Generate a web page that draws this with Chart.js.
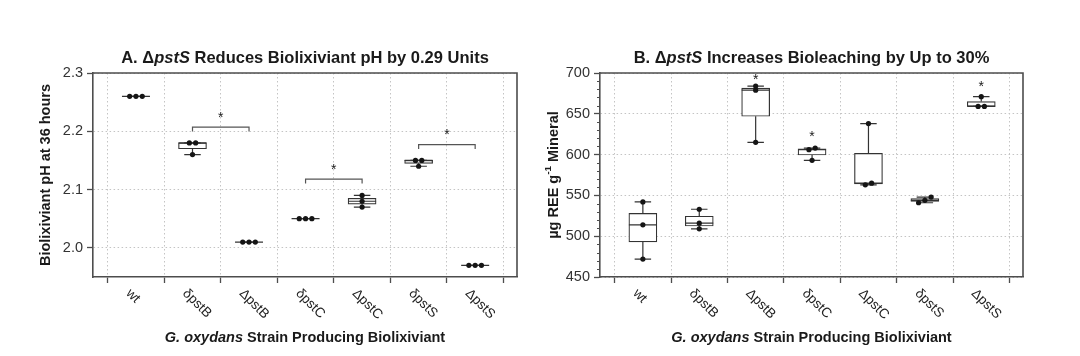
<!DOCTYPE html>
<html><head><meta charset="utf-8">
<script src="https://cdn.jsdelivr.net/npm/chart.js@4"></script>
<style>
html,body{margin:0;padding:0;background:#fff;}
#wrap{position:relative;width:1080px;height:356px;overflow:hidden;}
canvas{position:absolute;top:0;}
</style></head><body>
<div id="wrap">
<canvas id="cA" width="540" height="356" style="left:0;width:540px;height:356px"></canvas>
<canvas id="cB" width="540" height="356" style="left:540px;width:540px;height:356px"></canvas>
</div>
<script>
// ---------------- data ----------------
const strains = ['wt', 'δpstB', 'ΔpstB', 'δpstC', 'ΔpstC', 'δpstS', 'ΔpstS'];
const phValues = [
  [2.26, 2.26, 2.26],
  [2.16, 2.18, 2.18],
  [2.01, 2.01, 2.01],
  [2.05, 2.05, 2.05],
  [2.07, 2.08, 2.09],
  [2.14, 2.15, 2.15],
  [1.97, 1.97, 1.97]
];
const reeValues = [
  [472, 514, 542],
  [509, 516, 533],
  [615, 679, 684],
  [593, 606, 608],
  [563, 565, 638],
  [541, 544, 548],
  [659, 659, 671]
];
const phTicks = [2.0, 2.1, 2.2, 2.3];
const reeTicks = [450, 500, 550, 600, 650, 700];
const reeMinorStep = 10;
// significance brackets (category index from/to, bracket level) and asterisk levels
const phBrackets = [[1, 2, 2.207], [3, 4, 2.118], [5, 6, 2.177]];
const phStarLevels = [2.229, 2.140, 2.200];
const reeStarCats = [2, 3, 6];
const reeStarLevels = [696, 626, 688];

// ---------------- style / layout constants ----------------
const FAMILY = '"Liberation Sans", Arial, Helvetica, sans-serif';
Chart.defaults.font.family = FAMILY;
const PLOT_H = 204, PLOT_W = 424;
const X_MIN = -0.26, X_MAX = 7.24;
const X_UNIT_PX = PLOT_W / (X_MAX - X_MIN);
const BOX_PX = 28, CAP_PX = 16.5, SPREAD_PX = 6.3, SWARM_PX = 3.5;
const INK = '#333333', FRAME = '#4d4d4d';

function fnt(size, bold, italic) {
  return (italic ? 'italic ' : '') + (bold ? 'bold ' : '') + size + 'px ' + FAMILY;
}
function stats(v) {
  const s = [...v].sort((a, b) => a - b);
  const q = p => { const h = (s.length - 1) * p, lo = Math.floor(h), hi = Math.ceil(h); return s[lo] + (s[hi] - s[lo]) * (h - lo); };
  return { min: s[0], q1: q(0.25), med: q(0.5), q3: q(0.75), max: s[s.length - 1] };
}
function swarmOffsets(vals, thr, spread) {
  const idx = vals.map((v, i) => i).sort((a, b) => vals[a] - vals[b]);
  const offs = new Array(vals.length).fill(0);
  let cl = [idx[0]];
  const flush = () => { const n = cl.length; cl.forEach((k, j) => { offs[k] = (j - (n - 1) / 2) * spread; }); };
  for (let j = 1; j < idx.length; j++) {
    if (vals[idx[j]] - vals[idx[j - 1]] < thr) cl.push(idx[j]); else { flush(); cl = [idx[j]]; }
  }
  flush();
  return offs;
}
function segs(list) {
  const out = [];
  list.forEach(seg => { seg.forEach(p => out.push({ x: p[0], y: p[1] })); out.push({ x: seg[seg.length - 1][0], y: null }); });
  return out;
}
function drawRich(ctx, parts, x, y, size, align) {
  let w = 0;
  parts.forEach(p => { ctx.font = fnt(p.sup ? size * 0.68 : size, p.b !== false, p.i); p._w = ctx.measureText(p.t).width; w += p._w; });
  let cx = align === 'center' ? x - w / 2 : x;
  parts.forEach(p => {
    ctx.font = fnt(p.sup ? size * 0.68 : size, p.b !== false, p.i);
    ctx.textAlign = 'left';
    ctx.fillText(p.t, cx, p.sup ? y - size * 0.38 : y);
    cx += p._w;
  });
}

function makeChart(id, cfg) {
  const yRange = cfg.yMax - cfg.yMin;
  const yUnit = yRange / PLOT_H;
  const boxHalf = BOX_PX / 2 / X_UNIT_PX, capHalf = CAP_PX / 2 / X_UNIT_PX;
  const st = cfg.values.map(stats);
  const pts = [];
  cfg.values.forEach((vals, i) => {
    const offs = swarmOffsets(vals, SWARM_PX * yUnit, SPREAD_PX / X_UNIT_PX);
    vals.forEach((v, k) => pts.push({ x: i + 0.5 + offs[k], y: v }));
  });
  const whiskers = [], caps = [], medians = [];
  st.forEach((s, i) => {
    const c = i + 0.5;
    whiskers.push([[c, s.q3], [c, s.max]]);
    whiskers.push([[c, s.q1], [c, s.min]]);
    caps.push([[c - capHalf, s.max], [c + capHalf, s.max]]);
    caps.push([[c - capHalf, s.min], [c + capHalf, s.min]]);
    medians.push([[c - boxHalf, s.med], [c + boxHalf, s.med]]);
  });
  const drop = 4.4 * yUnit;
  const brackets = cfg.brackets.map(b => [[b[0] + 0.5, b[2] - drop], [b[0] + 0.5, b[2]], [b[1] + 0.5, b[2]], [b[1] + 0.5, b[2] - drop]]);
  const lineDs = (data, color, order) => ({ type: 'line', data: segs(data), borderColor: color, borderWidth: 1.2, pointRadius: 0, fill: false, tension: 0, spanGaps: false, order: order });

  const textPlugin = {
    id: 'texts' + id,
    afterDraw(chart) {
      const ctx = chart.ctx, a = chart.chartArea, xs = chart.scales.x, ys = chart.scales.y;
      ctx.save();
      // top + right frame
      ctx.strokeStyle = FRAME; ctx.lineWidth = 1.6;
      ctx.beginPath(); ctx.moveTo(a.left, a.top); ctx.lineTo(a.right, a.top); ctx.lineTo(a.right, a.bottom); ctx.stroke();
      // minor ticks
      if (cfg.minorStep) {
        ctx.strokeStyle = FRAME; ctx.lineWidth = 1;
        for (let v = cfg.yMin; v <= cfg.yMax + 1e-9; v += cfg.minorStep) {
          if (cfg.ticks.some(t => Math.abs(t - v) < 1e-9)) continue;
          const py = Math.round(ys.getPixelForValue(v)) + 0.5;
          ctx.beginPath(); ctx.moveTo(a.left - 3, py); ctx.lineTo(a.left, py); ctx.stroke();
        }
      }
      ctx.fillStyle = '#1a1a1a';
      // asterisks
      ctx.font = fnt(14, false, false); ctx.textAlign = 'center'; ctx.textBaseline = 'alphabetic';
      cfg.stars.forEach(s => ctx.fillText('*', xs.getPixelForValue(s[0]), ys.getPixelForValue(s[1]) + 8));
      // title
      ctx.textBaseline = 'alphabetic';
      drawRich(ctx, cfg.title, (a.left + a.right) / 2, 63, 16.5, 'center');
      // x title
      drawRich(ctx, [{ t: 'G. oxydans', i: true }, { t: ' Strain Producing Biolixiviant' }], (a.left + a.right) / 2, 342, 14.5, 'center');
      // y title
      ctx.save();
      ctx.translate(cfg.yTitleX, (a.top + a.bottom) / 2);
      ctx.rotate(-Math.PI / 2);
      ctx.textBaseline = 'middle';
      drawRich(ctx, cfg.yTitle, 0, 0, 14.5, 'center');
      ctx.restore();
      // category labels (rotated clockwise)
      ctx.fillStyle = '#222222'; ctx.font = fnt(13.5, false, false);
      strains.forEach((s, i) => {
        ctx.save();
        ctx.translate(xs.getPixelForValue(i + 0.5) - 3, 286.5);
        ctx.rotate(Math.PI / 4);
        ctx.textAlign = 'left'; ctx.textBaseline = 'top';
        ctx.fillText(s, 0, 0);
        ctx.restore();
      });
      ctx.restore();
    }
  };

  const gridCommon = { color: '#c4c4c4', lineWidth: 1, tickLength: 6, tickColor: FRAME, tickWidth: 1.3, offset: false };
  const borderCommon = { display: true, color: FRAME, width: 1.6, dash: [1.5, 2.5] };

  return new Chart(document.getElementById(id), {
    type: 'scatter',
    data: {
      datasets: [
        { type: 'scatter', data: pts, pointRadius: 2.6, pointBackgroundColor: '#151515', pointBorderWidth: 0, order: 0 },
        lineDs(medians, INK, 1),
        lineDs(caps, INK, 1),
        lineDs(whiskers, INK, 1),
        lineDs(brackets, '#555555', 1),
        { type: 'bar', data: st.map((s, i) => ({ x: i + 0.5, y: [s.q1, s.q3] })), backgroundColor: '#ffffff', borderColor: INK, borderWidth: 1.2, borderSkipped: false, barThickness: BOX_PX, grouped: false, order: 2 }
      ]
    },
    options: {
      responsive: false, animation: false, events: [],
      layout: { padding: { left: 0, right: cfg.padRight, top: 73, bottom: 0 } },
      plugins: { legend: { display: false }, tooltip: { enabled: false }, title: { display: false } },
      scales: {
        x: {
          type: 'linear', min: X_MIN, max: X_MAX, offset: false,
          ticks: { display: false, stepSize: 1, includeBounds: false },
          grid: gridCommon, border: borderCommon,
          afterFit: s => { s.height = 79; }
        },
        y: {
          type: 'linear', min: cfg.yMin, max: cfg.yMax,
          afterBuildTicks: s => { s.ticks = cfg.ticks.map(v => ({ value: v })); },
          ticks: { color: INK, font: { size: 14.5 }, padding: 4, callback: cfg.fmt },
          grid: gridCommon, border: borderCommon,
          afterFit: s => { s.width = cfg.yWidth; }
        }
      }
    },
    plugins: [textPlugin]
  });
}

makeChart('cA', {
  values: phValues, yMin: 1.95, yMax: 2.3, ticks: phTicks, fmt: v => Number(v).toFixed(1),
  minorStep: 0, brackets: phBrackets,
  stars: phBrackets.map((b, k) => [(b[0] + b[1]) / 2 + 0.5, phStarLevels[k]]),
  title: [{ t: 'A. Δ' }, { t: 'pstS', i: true }, { t: ' Reduces Biolixiviant pH by 0.29 Units' }],
  yTitle: [{ t: 'Biolixiviant pH at 36 hours' }],
  yTitleX: 45.5, yWidth: 93, padRight: 23
});
makeChart('cB', {
  values: reeValues, yMin: 450, yMax: 700, ticks: reeTicks, fmt: v => String(v),
  minorStep: reeMinorStep, brackets: [],
  stars: reeStarCats.map((c, k) => [c + 0.5, reeStarLevels[k]]),
  title: [{ t: 'B. Δ' }, { t: 'pstS', i: true }, { t: ' Increases Bioleaching by Up to 30%' }],
  yTitle: [{ t: 'µg REE g' }, { t: '-1', sup: true }, { t: ' Mineral' }],
  yTitleX: 14, yWidth: 60, padRight: 57
});
</script>
</body></html>
